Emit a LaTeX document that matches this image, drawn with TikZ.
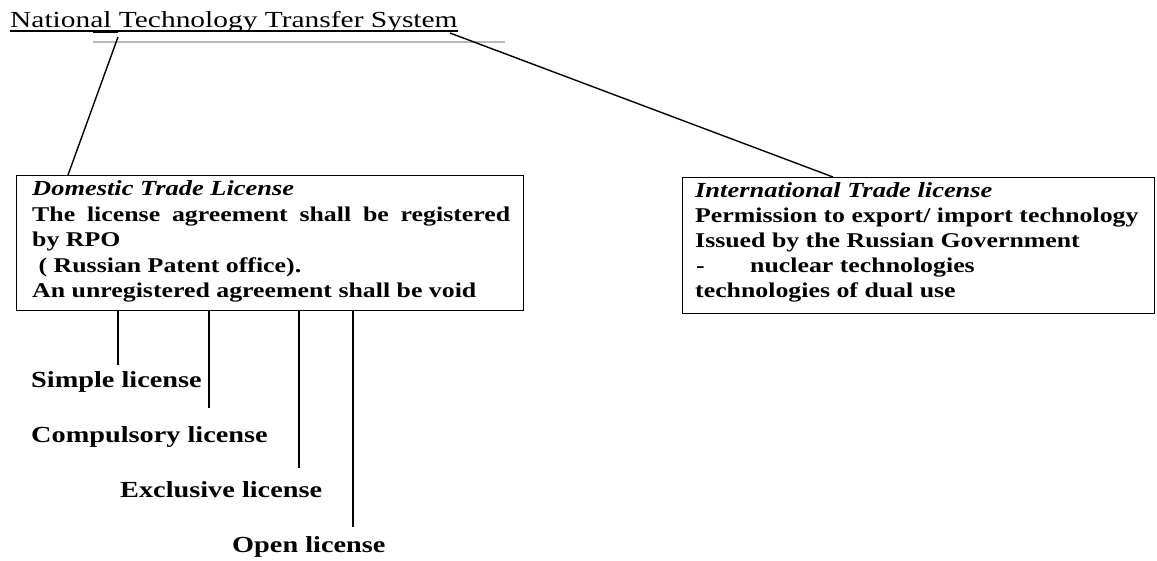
\documentclass[tikz,border=0pt]{standalone}
\usepackage{fontspec}
\setmainfont[FakeStretch=1.23]{Liberation Serif}
\newfontfamily\headfont[FakeStretch=1.28]{Liberation Serif}
\begin{document}
\begin{tikzpicture}[x=1pt,y=-1pt,
  boxtext/.style={anchor=base west, inner sep=0pt, font=\fontsize{21}{25}\selectfont\bfseries},
  boxhead/.style={anchor=base west, inner sep=0pt, font=\fontsize{21.5}{25}\selectfont\bfseries\itshape},
  kind/.style={anchor=base west, inner sep=0pt, font=\fontsize{23}{27}\selectfont\bfseries},
  frame/.style={draw, line width=1.3pt, anchor=north west, inner sep=0pt},
  link/.style={line width=1.4pt},
  stem/.style={line width=1.2pt}]
\useasboundingbox (0,0) rectangle (1157,560);

% heading with its rules
\node[anchor=base west, inner sep=0pt, font=\headfont\fontsize{23}{27}\selectfont] (title) at (10,27) {National Technology Transfer System};
\draw[line width=1.2pt] ([yshift=-4pt]title.base west) -- ([yshift=-4pt]title.base east);
\draw[gray!55, line width=2.6pt] (93,42) -- (505,42);
\draw[line width=1.8pt] (93,32.5) -- (118,32.5);
\coordinate (tleft) at (118,37);
\coordinate (tright) at (450,33);

% domestic trade licence box
\node[frame, minimum width=507pt, minimum height=135pt] (dom) at (16,175) {};
\node[boxhead] (d1) at (32,195) {Domestic Trade License};
\node[boxtext] (d2) at (32,221) {\makebox[478pt][s]{The license agreement shall be registered}};
\node[boxtext] (d3) at (32,246) {by RPO};
\node[boxtext] (d4) at (32,272) {\ ( Russian Patent office).};
\node[boxtext] (d5) at (32,297) {An unregistered agreement shall be void};

% international trade licence box
\node[frame, minimum width=472pt, minimum height=136pt] (intl) at (682,177) {};
\node[boxhead] (i1) at (695,197) {International Trade license};
\node[boxtext] (i2) at (695,222) {Permission to export/ import technology};
\node[boxtext] (i3) at (695,247) {Issued by the Russian Government};
\node[boxtext] (i4) at (696,272) {-};
\node[boxtext] (i5) at (750,272) {nuclear technologies};
\node[boxtext] (i6) at (695,297) {technologies of dual use};

% links from the heading
\draw[link] (tleft) -- ([xshift=52pt]dom.north west);
\draw[link] (tright) -- ([xshift=151pt]intl.north west);

% licence kinds
\node[kind] (k1) at (31,387) {Simple license};
\node[kind] (k2) at (31,442) {Compulsory license};
\node[kind] (k3) at (120,497) {Exclusive license};
\node[kind] (k4) at (232,552) {Open license};
\coordinate (s1) at (118,365);
\coordinate (s2) at (209,408);
\coordinate (s3) at (299,468);
\coordinate (s4) at (353,527);
\foreach \s in {s1,s2,s3,s4}
  \draw[stem] (\s |- dom.south) -- (\s);
\end{tikzpicture}
\end{document}
